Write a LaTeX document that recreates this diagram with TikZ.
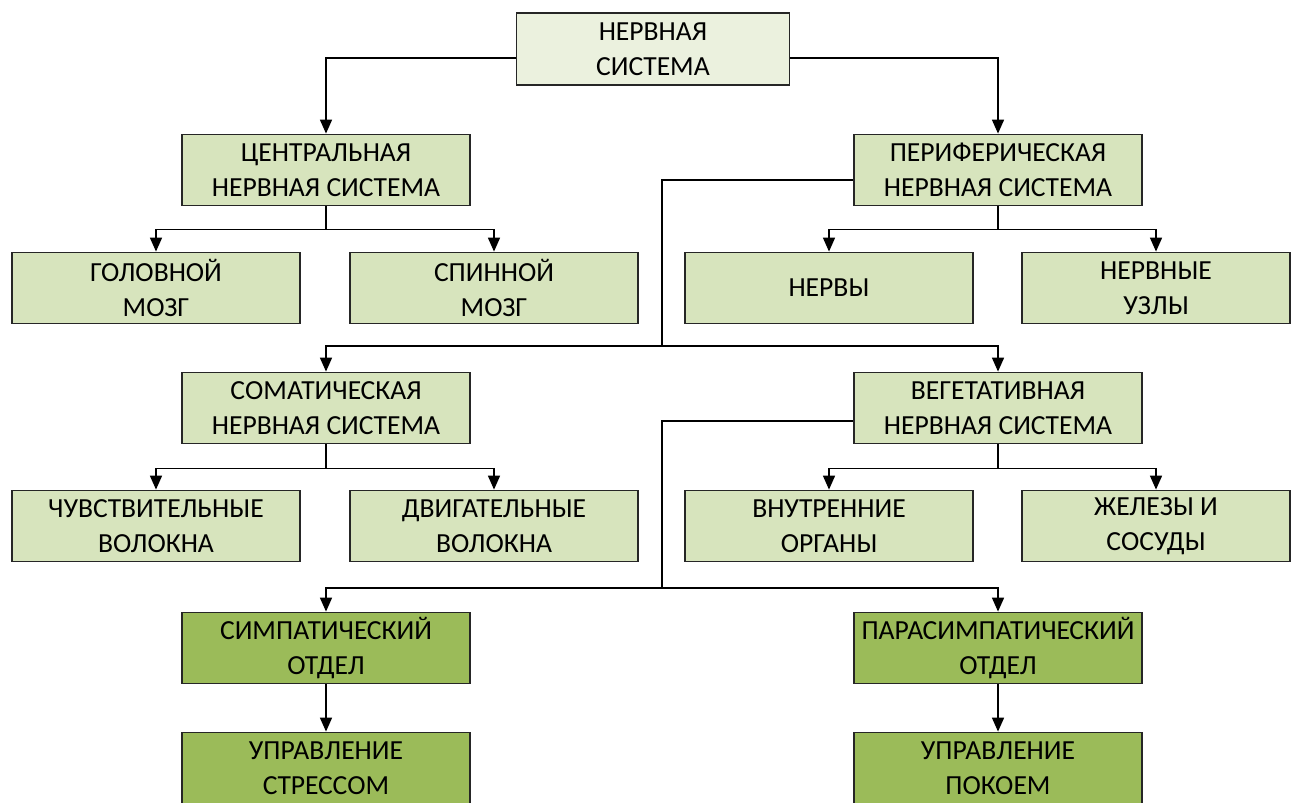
\documentclass[tikz,border=0pt]{standalone}
\usepackage{fontspec}
\setmainfont{Carlito}
\usetikzlibrary{arrows.meta}
\definecolor{toplight}{HTML}{EBF1DE}
\definecolor{boxgreen}{HTML}{D7E4BD}
\definecolor{darkgreen}{HTML}{9BBB59}

\begin{document}
\begin{tikzpicture}[x=0.5pt,y=-0.5pt,
        box/.style={draw=black!85, line width=0.9pt, fill=boxgreen, minimum width=144pt, minimum height=35.5pt,
            align=center, font=\fontsize{13.8}{17.5}\selectfont, text=black, inner sep=0pt},
        topbox/.style={box, fill=toplight, minimum width=136.5pt, minimum height=36pt},
        deepbox/.style={box, fill=darkgreen},
        line/.style={line width=0.8pt},
        arr/.style={line, -{Triangle[width=6pt,length=7pt]}}]
        \useasboundingbox (0,0) rectangle (1299,802);
        \node[topbox] (top) at (653,49) {НЕРВНАЯ\\СИСТЕМА};
        \node[box] (cns) at (326,170) {ЦЕНТРАЛЬНАЯ\\НЕРВНАЯ СИСТЕМА};
        \node[box] (pns) at (998,170) {ПЕРИФЕРИЧЕСКАЯ\\НЕРВНАЯ СИСТЕМА};
        \node[box] (brain) at (156,288) {ГОЛОВНОЙ\\МОЗГ};
        \node[box] (spine) at (494,288) {СПИННОЙ\\МОЗГ};
        \node[box] (nerves) at (829,288) {НЕРВЫ};
        \node[box, minimum width=134pt] (ganglia) at (1156,288) {НЕРВНЫЕ\\УЗЛЫ};
        \node[box] (somatic) at (326,408) {СОМАТИЧЕСКАЯ\\НЕРВНАЯ СИСТЕМА};
        \node[box] (autonomic) at (998,408) {ВЕГЕТАТИВНАЯ\\НЕРВНАЯ СИСТЕМА};
        \node[box] (sensory) at (156,526) {ЧУВСТВИТЕЛЬНЫЕ\\ВОЛОКНА};
        \node[box] (motor) at (494,526) {ДВИГАТЕЛЬНЫЕ\\ВОЛОКНА};
        \node[box] (organs) at (829,526) {ВНУТРЕННИЕ\\ОРГАНЫ};
        \node[box, minimum width=134pt] (glands) at (1156,526) {ЖЕЛЕЗЫ И\\СОСУДЫ};
        \node[deepbox] (sympath) at (326,648) {СИМПАТИЧЕСКИЙ\\ОТДЕЛ};
        \node[deepbox] (parasym) at (998,648) {ПАРАСИМПАТИЧЕСКИЙ\\ОТДЕЛ};
        \node[deepbox] (stress) at (326,768) {УПРАВЛЕНИЕ\\СТРЕССОМ};
        \node[deepbox] (rest) at (998,768) {УПРАВЛЕНИЕ\\ПОКОЕМ};

        \coordinate (split1) at (662,346);
        \coordinate (split2) at (662,588);

        \draw[arr] ([yshift=-4.5pt]top.west) -| (cns);
        \draw[arr] ([yshift=-4.5pt]top.east) -| (pns);
        \draw[arr] (cns.south) -- ++(0,23) -| (brain);
        \draw[arr] (cns.south) -- ++(0,23) -| (spine);
        \draw[arr] (pns.south) -- ++(0,23) -| (nerves);
        \draw[arr] (pns.south) -- ++(0,23) -| (ganglia);
        \draw[line] ([yshift=-5pt]pns.west) -| (split1);
        \draw[arr] (split1) -| (somatic);
        \draw[arr] (split1) -| (autonomic);
        \draw[arr] (somatic.south) -- ++(0,24) -| (sensory);
        \draw[arr] (somatic.south) -- ++(0,24) -| (motor);
        \draw[arr] (autonomic.south) -- ++(0,24) -| (organs);
        \draw[arr] (autonomic.south) -- ++(0,24) -| (glands);
        \draw[line] ([yshift=-6.5pt]autonomic.west) -| (split2);
        \draw[arr] (split2) -| (sympath);
        \draw[arr] (split2) -| (parasym);
        \draw[arr] (sympath) -- (stress);
        \draw[arr] (parasym) -- (rest);
\end{tikzpicture}
\end{document}
